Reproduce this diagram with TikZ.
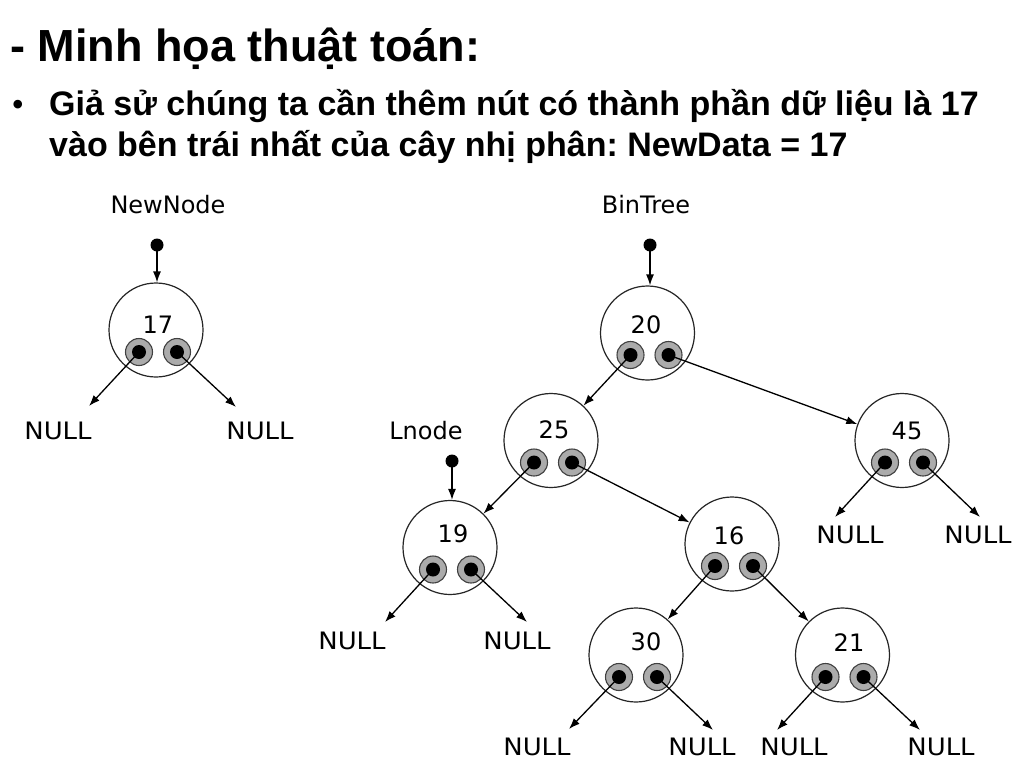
\documentclass[tikz,border=0pt]{standalone}
\usepackage{fontspec}
\setmainfont{Liberation Sans}
\newfontfamily\djfont{DejaVu Sans}
\usetikzlibrary{calc,arrows.meta}
\tikzset{
  tnode/.style={circle,draw=black!85,line width=1.2pt,minimum size=94pt,inner sep=0pt},
  ptrout/.style={circle,draw=black!75,fill=black!33,line width=1.1pt,minimum size=27pt,inner sep=0pt},
  ptrin/.style={circle,fill=black,minimum size=14pt,inner sep=0pt},
  srcdot/.style={circle,fill=black,minimum size=13pt,inner sep=0pt},
  numlab/.style={inner sep=0pt,font=\djfont\fontsize{24}{28}\selectfont},
  lab/.style={inner sep=0pt,font=\djfont\fontsize{24}{28}\selectfont},
  nulllab/.style={inner sep=0pt,font=\djfont\fontsize{24}{28}\selectfont,xscale=1.08},
  headtext/.style={anchor=base west,inner sep=0pt,font=\bfseries\fontsize{34}{40}\selectfont},
  link/.style={line width=1.3pt,-{Latex[length=11pt,width=8pt]}},
}
\newcommand\btnode[6]{%
  \node[tnode] (#1) at (#2,#3) {};
  \node[numlab] (#1t) at (#5,#6) {#4};
  \node[ptrout] (#1l) at ($(#1)+(-17,22)$) {};
  \node[ptrin] at (#1l) {};
  \node[ptrout] (#1r) at ($(#1)+(21,22)$) {};
  \node[ptrin] at (#1r) {};
}
\frenchspacing
\begin{document}
\begin{tikzpicture}[x=1pt,y=-1pt]
\useasboundingbox (0,0) rectangle (1024,768);
\fill[white] (0,0) rectangle (1024,768);
% heading
\node[anchor=base west,inner sep=0pt,font=\bfseries\fontsize{45}{54}\selectfont] (title) at (10,61) {- Minh họa thuật toán:};
\node[anchor=base,inner sep=0pt,font=\bfseries\fontsize{30}{36}\selectfont] (bul) at (18,114) {•};
\node[headtext] (l1) at (49,115) {Giả sử chúng ta cần thêm nút có thành phần dữ liệu là 17};
\node[headtext] (l2) at (49,156) {vào bên trái nhất của cây nhị phân: NewData = 17};
% labels
\node[lab] (lnew) at (168,205) {NewNode};
\node[lab] (lbin) at (646,205) {BinTree};
\node[lab] (lln) at (426,431) {Lnode};
% nodes
\btnode{n17}{156}{330}{17}{158}{325}
\btnode{n20}{647.5}{333}{20}{646}{325}
\btnode{n25}{551}{440.5}{25}{554}{430}
\btnode{n45}{902}{440.5}{45}{907}{431}
\btnode{n19}{450}{547.5}{19}{453}{534}
\btnode{n16}{732}{544}{16}{729}{536}
\btnode{n30}{636}{655}{30}{646}{642}
\btnode{n21}{842.5}{655}{21}{849}{643}
% source pointers
\node[srcdot] (dnew) at (157,245) {};
\node[srcdot] (dbin) at (650,245) {};
\node[srcdot] (dln) at (452,461) {};
\draw[link] (dnew.center) -- (dnew |- n17.north);
\draw[link] (dbin.center) -- (dbin |- n20.north);
\draw[link] (dln.center) -- (dln |- n19.north);
% NULL labels
\node[nulllab] (u17l) at (58,431) {NULL};
\node[nulllab] (u17r) at (260,431) {NULL};
\node[nulllab] (u45l) at (850,535) {NULL};
\node[nulllab] (u45r) at (978,535) {NULL};
\node[nulllab] (u19l) at (352,641) {NULL};
\node[nulllab] (u19r) at (517,641) {NULL};
\node[nulllab] (u30l) at (537,747) {NULL};
\node[nulllab] (u30r) at (702,747) {NULL};
\node[nulllab] (u21l) at (794,747) {NULL};
\node[nulllab] (u21r) at (941,747) {NULL};
% NULL arrow tips
\coordinate (t17l) at (89,406);
\coordinate (t17r) at (236,407);
\coordinate (t45l) at (835,517);
\coordinate (t45r) at (980,517);
\coordinate (t19l) at (385,622);
\coordinate (t19r) at (527,622);
\coordinate (t30l) at (569,729);
\coordinate (t30r) at (713,730);
\coordinate (t21l) at (777,730);
\coordinate (t21r) at (920,730);
% links
\draw[link] (n17l.center) -- (t17l);
\draw[link] (n17r.center) -- (t17r);
\draw[link] (n20l.center) -- (n25);
\draw[link] (n20r.center) -- (n45);
\draw[link] (n25l.center) -- (n19);
\draw[link] (n25r.center) -- (n16);
\draw[link] (n45l.center) -- (t45l);
\draw[link] (n45r.center) -- (t45r);
\draw[link] (n19l.center) -- (t19l);
\draw[link] (n19r.center) -- (t19r);
\draw[link] (n16l.center) -- (n30);
\draw[link] (n16r.center) -- (n21);
\draw[link] (n30l.center) -- (t30l);
\draw[link] (n30r.center) -- (t30r);
\draw[link] (n21l.center) -- (t21l);
\draw[link] (n21r.center) -- (t21r);
\end{tikzpicture}
\end{document}
